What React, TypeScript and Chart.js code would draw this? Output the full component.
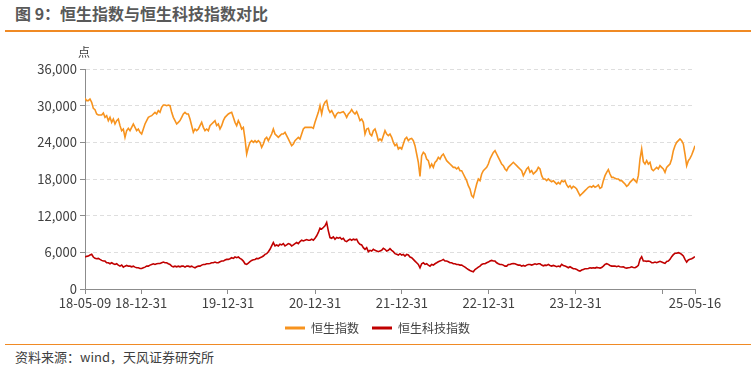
import React, { useEffect, useRef } from "react";
import { Chart, registerables } from "chart.js";

Chart.register(...registerables);

const START_DATE = "2018-05-09";
const END_DATE = "2025-05-16";
const X_TICK_DATES = [
  "2018-05-09", "2018-12-31", "2019-12-31", "2020-12-31", "2021-12-31",
  "2022-12-31", "2023-12-31", "2024-12-31", "2025-05-16",
];
const X_TICK_LABELS = [
  "18-05-09", "18-12-31", "19-12-31", "20-12-31", "21-12-31",
  "22-12-31", "23-12-31", "", "25-05-16",
];
const Y_MIN = 0;
const Y_MAX = 36000;
const Y_STEP = 6000;
const Y_UNIT = "点";
const SERIES_NAMES = ["恒生指数", "恒生科技指数"];

// 恒生指数 (roughly weekly readings)
const HSI = [
  31200, 30820, 30820, 31090, 30550, 29560, 29350, 28640, 28470, 28470,
  28470, 28800, 28090, 28360, 27550, 28090, 27270, 27820, 27000, 27550,
  27820, 26730, 25910, 26180, 24820, 25910, 26290, 25910, 26450, 27000,
  26450, 25910, 26180, 25640, 25360, 26180, 27000, 27550, 28090, 28250,
  28360, 28640, 28910, 28640, 29180, 28910, 29730, 30110, 30110, 30000,
  30110, 30000, 28910, 28090, 27550, 27000, 27270, 27550, 28090, 28640,
  28910, 28640, 28640, 27820, 26730, 25640, 26180, 25910, 26180, 26730,
  27270, 26450, 25910, 26180, 25910, 26730, 27000, 27270, 27550, 26730,
  27000, 26180, 26730, 27550, 28090, 28360, 28640, 28800, 28910, 28090,
  27270, 26730, 27550, 27000, 26180, 26450, 24550, 22090, 23180, 24000,
  24270, 24000, 24270, 24000, 24270, 24000, 23180, 23730, 24550, 24820,
  24270, 24820, 25360, 26180, 25360, 25090, 24820, 25090, 25360, 25360,
  25640, 25090, 24550, 24000, 23450, 23730, 24270, 24550, 24820, 24550,
  25360, 26180, 26450, 26450, 26450, 26450,
  26450, 26290, 27270, 28090, 28910, 30000, 28640, 30000, 30550, 30820,
  29450, 28910, 29180, 28640, 28090, 28640, 28910, 28800, 28910, 29020,
  28640, 28090, 28640, 28910, 29350, 28910, 28640, 29020, 28360, 27550,
  27820, 27270, 25360, 26180, 26290, 25360, 25090, 25910, 26180, 25360,
  24270, 24550, 24270, 25090, 25910, 25360, 25090, 25360, 24820, 24000,
  23450, 23730, 22910, 23180, 22910, 23730, 24550, 24820, 24270, 24550,
  24650, 24270, 23450, 22090, 20730, 18440, 21820, 22360, 22090, 21270,
  21000, 19910, 20450, 19910, 20730, 21000, 21550, 21270, 21820, 22090,
  21550, 21000, 20730, 20450, 20180, 19910, 19910, 19640, 19910, 19360,
  19360, 18820, 18270, 17730, 16910, 16360, 15270, 15000, 16090, 17180,
  18000, 17730, 18820, 19360, 19640, 19910, 20450, 21270, 21820, 22360,
  22640, 22090, 21550, 21000, 20450, 20180, 19640, 19360, 19910, 20180,
  20450, 20730, 20450, 20180, 19910, 19640, 19360, 18550, 19090, 19640,
  19910, 19090, 19360, 18820, 19090, 19360, 19910, 19640, 18550, 18000,
  18000, 17730, 18000, 17730, 17560, 17730, 17450, 17180, 17450, 17180,
  17730, 17560, 17730, 17020, 16640, 16910, 16470, 16800, 16640, 16360,
  15820, 15270, 15540, 15820, 16090, 16360, 16640, 16800, 16640, 16910,
  16640, 16800, 17020, 16470, 16640, 17730, 18550, 19090, 19530, 18820,
  18270, 18270, 18110, 18000, 18000, 17730, 17730, 17450, 17180, 16800,
  17020, 17450, 17730, 18000, 17730, 17450, 18550, 21270, 22910, 20840,
  20450, 21000, 20450, 20730, 19640, 19360, 19640, 19910, 19640, 20180,
  19910, 19640, 19090, 19910, 20180, 20450, 21270, 22640, 23450, 24000,
  24270, 24550, 24270, 23730, 22090, 20180, 21000, 21380, 21930, 22640,
  23450,
];

// 恒生科技指数 (roughly weekly readings)
const HSTECH = [
  5230, 5340, 5390, 5560, 5670, 5230, 5010, 4950, 5010, 4840,
  4680, 4570, 4570, 4290, 4290, 4130, 4290, 4130, 4020, 4130,
  3910, 3740, 3910, 3580, 3740, 3850, 3740, 3740, 3630, 3740,
  3580, 3470, 3470, 3360, 3360, 3470, 3580, 3740, 3740, 3910,
  4020, 4130, 4020, 4130, 4180, 4180, 4290, 4400, 4290, 4290,
  4130, 4020, 3740, 3630, 3740, 3630, 3740, 3630, 3740, 3740,
  3580, 3740, 3740, 3630, 3740, 3580, 3470, 3630, 3740, 3740,
  3910, 4020, 4020, 4130, 4130, 4180, 4290, 4290, 4400, 4290,
  4290, 4460, 4570, 4570, 4730, 4840, 4840, 4950, 5120, 5010,
  5230, 5120, 5230, 5010, 4840, 4570, 4130, 4020, 4240, 4460,
  4680, 4790, 4840, 5010, 4950, 5120, 5230, 5390, 5670, 5780,
  6110, 6500, 7050, 7600, 7050, 7210, 7050, 7320, 7210, 7430,
  7050, 7210, 7430, 7320, 7050, 7210, 7430, 7600, 7430, 7760,
  7980, 7870, 7980, 8090, 7980, 7980,
  8150, 7980, 8310, 8700, 9250, 9960, 9800, 10070, 10350, 10900,
  9520, 8420, 8310, 8530, 8150, 8420, 8310, 8420, 8150, 8310,
  7870, 7760, 7980, 8150, 7980, 8150, 8040, 8150, 7600, 7320,
  7210, 6770, 6500, 6770, 6110, 6330, 6220, 6500, 6330, 6220,
  6110, 6220, 6330, 6660, 6500, 6220, 6330, 6610, 6330, 6110,
  5780, 5670, 5560, 5780, 5560, 5670, 5390, 5670, 5560, 5230,
  5120, 4840, 4570, 4290, 4020, 3470, 4130, 4290, 4020, 4130,
  3910, 3740, 4020, 3910, 4130, 4290, 4460, 4570, 4680, 4840,
  4570, 4570, 4460, 4290, 4290, 4130, 4130, 4020, 4020, 3910,
  3910, 3740, 3580, 3360, 3190, 3030, 2920, 2810, 3190, 3360,
  3580, 3740, 4020, 4130, 4130, 4290, 4400, 4570, 4680, 4570,
  4570, 4290, 4130, 4020, 4020, 3910, 3740, 3740, 4020, 4020,
  4130, 4180, 4130, 4020, 3910, 3910, 3740, 3850, 3740, 3910,
  4020, 4020, 3910, 4020, 4130, 4020, 4130, 4130, 3910, 3800,
  3900, 3860, 4030, 3860, 3750, 3860, 3750, 3640, 3750, 3640,
  4030, 3860, 3750, 3640, 3480, 3640, 3480, 3310, 3310, 3210,
  3040, 2930, 3100, 3210, 3310, 3310, 3360, 3480, 3420, 3480,
  3420, 3530, 3480, 3420, 3530, 3750, 4030, 4140, 4030, 3860,
  3750, 3750, 3750, 3640, 3750, 3640, 3590, 3640, 3480, 3420,
  3480, 3530, 3640, 3530, 3480, 3640, 3860, 4850, 5290, 4580,
  4580, 4520, 4580, 4520, 4300, 4300, 4410, 4300, 4410, 4520,
  4410, 4300, 4190, 4520, 4580, 4850, 5290, 5620, 5840, 5840,
  5950, 5840, 5670, 5400, 4850, 4410, 4740, 4850, 4960, 5120,
  5290,
];

const SERIES_VALUES = [HSI, HSTECH];
const SERIES_COLORS = ["#F7931E", "#C00000"];

const FONT = '"Noto Sans CJK SC", "Noto Sans", sans-serif';
const TEXT = "#404040";
const AXIS = "#8c8c8c";
const ORANGE_RULE = "#F08A24";

const DAY_MS = 86400000;
const dayOf = (d: string) => (Date.parse(d) - Date.parse(START_DATE)) / DAY_MS;
const SPAN = dayOf(END_DATE);
const TICK_DAYS = X_TICK_DATES.map(dayOf);
const toPoints = (arr: number[]) =>
  arr.map((y, i) => ({ x: (i * SPAN) / (arr.length - 1), y }));

export default function App() {
  const ref = useRef<HTMLCanvasElement | null>(null);

  useEffect(() => {
    if (!ref.current) return;
    const unitPlugin = {
      id: "unitLabel",
      afterDraw(chart: any) {
        const { ctx, chartArea } = chart;
        ctx.save();
        ctx.font = `12px ${FONT}`;
        ctx.fillStyle = TEXT;
        ctx.textAlign = "center";
        ctx.textBaseline = "middle";
        ctx.fillText(Y_UNIT, chartArea.left - 1, chartArea.top - 17);
        ctx.restore();
      },
    };
    const baseLabels = (Chart.defaults as any).plugins.legend.labels.generateLabels;
    const chart = new Chart(ref.current, {
      type: "line",
      data: {
        datasets: SERIES_NAMES.map((name, i) => ({
          label: name,
          data: toPoints(SERIES_VALUES[i]),
          borderColor: SERIES_COLORS[i],
          backgroundColor: SERIES_COLORS[i],
          borderWidth: 1.6,
          pointRadius: 0,
          tension: 0,
          fill: false,
        })),
      },
      options: {
        animation: false,
        responsive: false,
        maintainAspectRatio: false,
        layout: { padding: { top: 33, right: 0, bottom: 2, left: 0 } },
        plugins: {
          tooltip: { enabled: false },
          legend: {
            position: "bottom",
            labels: {
              boxWidth: 20,
              boxHeight: 3,
              padding: 13,
              color: TEXT,
              font: { size: 12, family: FONT },
              generateLabels: (c: any) =>
                baseLabels(c).map((l: any) => ({ ...l, lineWidth: 0 })),
            },
          },
        },
        scales: {
          x: {
            type: "linear",
            min: 0,
            max: SPAN,
            afterBuildTicks: (s: any) => {
              s.ticks = TICK_DAYS.map((v) => ({ value: v }));
            },
            afterFit: (s: any) => {
              s.height = 20;
            },
            ticks: {
              autoSkip: false,
              maxRotation: 0,
              padding: 1,
              color: TEXT,
              font: { size: 13, family: FONT },
              callback: (_v: any, idx: number) => X_TICK_LABELS[idx],
            },
            grid: {
              display: true,
              drawOnChartArea: false,
              drawTicks: true,
              tickLength: 5,
              tickColor: AXIS,
            },
            border: { display: true, color: AXIS, width: 1 },
          },
          y: {
            min: Y_MIN,
            max: Y_MAX,
            afterFit: (s: any) => {
              s.width = 85;
            },
            ticks: {
              stepSize: Y_STEP,
              padding: 3,
              color: TEXT,
              font: { size: 13, family: FONT },
              callback: (v: any) => Number(v).toLocaleString("en-US"),
            },
            grid: {
              color: "#dedede",
              lineWidth: 1,
              drawTicks: true,
              tickLength: 5,
              tickColor: AXIS,
            },
            border: { display: true, color: AXIS, width: 1, dash: [4, 3] },
          },
          yRight: {
            position: "right",
            display: true,
            grid: { display: false, drawTicks: false },
            border: { display: false },
            ticks: { display: false },
            afterFit: (s: any) => {
              s.width = 60;
            },
          },
        },
      },
      plugins: [unitPlugin],
    } as any);
    return () => chart.destroy();
  }, []);

  return (
    <div
      style={{
        position: "fixed",
        left: 0,
        top: 0,
        width: 755,
        height: 371,
        background: "#ffffff",
        overflow: "hidden",
        fontFamily: FONT,
      }}
    >
      <div
        style={{
          position: "absolute",
          left: 15,
          top: 4,
          fontSize: 16,
          lineHeight: "18px",
          fontWeight: "bold",
          color: "#595959",
          whiteSpace: "nowrap",
        }}
      >
        图 9：恒生指数与恒生科技指数对比
      </div>
      <div
        style={{
          position: "absolute",
          left: 5,
          right: 4,
          top: 30,
          height: 1.5,
          background: ORANGE_RULE,
        }}
      />
      <canvas
        ref={ref}
        width={755}
        height={310}
        style={{ position: "absolute", left: 0, top: 36, width: 755, height: 310 }}
      />
      <div
        style={{
          position: "absolute",
          left: 5,
          right: 4,
          top: 343.5,
          height: 1.5,
          background: ORANGE_RULE,
        }}
      />
      <div
        style={{
          position: "absolute",
          left: 15,
          top: 349,
          fontSize: 13,
          lineHeight: "16px",
          color: TEXT,
          whiteSpace: "nowrap",
        }}
      >
        资料来源：wind，天风证券研究所
      </div>
    </div>
  );
}
